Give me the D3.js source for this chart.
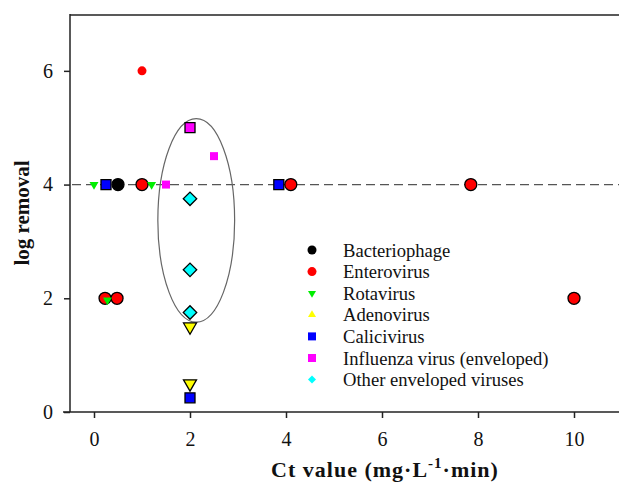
<!DOCTYPE html>
<html>
<head>
<meta charset="utf-8">
<script src="https://cdn.jsdelivr.net/npm/d3@7"></script>
<style>
  body { margin: 0; background: #fff; }
  svg text { font-family: "Liberation Serif", "Times New Roman", serif; fill: #111; }
  .axis path, .axis line { stroke: #222; stroke-width: 1.5; }
</style>
</head>
<body>
<svg id="chart" width="619" height="486"></svg>
<script>
// series, two groups: outlined markers (main) and small markers (extra)
var seriesNames = ["Bacteriophage", "Enterovirus", "Rotavirus", "Adenovirus",
                   "Calicivirus", "Influenza virus (enveloped)", "Other enveloped viruses"];

var bacteriophage   = [[0.5, 4]];
var enterovirus     = [[1, 4], [4.1, 4], [7.85, 4], [10, 2], [0.23, 2], [0.48, 2]];
var rotavirus       = [];
var adenovirus      = [[2, 1.5], [2, 0.5]];
var calicivirus     = [[0.25, 4], [3.85, 4], [2, 0.25]];
var influenza       = [[2, 5]];
var otherEnveloped  = [[2, 3.75], [2, 2.5], [2, 1.75]];

var bacteriophageX  = [];
var enterovirusX    = [[1, 6]];
var rotavirusX      = [[0, 4], [1.2, 4], [0.28, 1.97]];
var adenovirusX     = [];
var calicivirusX    = [];
var influenzaX      = [[1.5, 4], [2.5, 4.5]];
var otherEnvelopedX = [];

var xTicks = [0, 2, 4, 6, 8, 10];
var yTicks = [0, 2, 4, 6];
var threshold = 4;
// ellipse drawn round the x=2 cluster: centre, radii in data units
var ellipseData = { cx: 2.13, cy: 3.37, rx: 0.8, ry: 1.79 };

var mainData  = [bacteriophage, enterovirus, rotavirus, adenovirus, calicivirus, influenza, otherEnveloped];
var extraData = [bacteriophageX, enterovirusX, rotavirusX, adenovirusX, calicivirusX, influenzaX, otherEnvelopedX];

var colors  = ["#000000", "#ff0000", "#00ee00", "#ffff00", "#0000ff", "#ff00ff", "#00ffff"];
var shapes  = ["circle", "circle", "down", "down", "square", "square", "diamond"];
var legendShapes = ["circle", "circle", "down", "up", "square", "square", "diamond"];

var svg = d3.select("#chart");
var x = d3.scaleLinear().domain([-0.5, 11]).range([70, 622]);
var y = d3.scaleLinear().domain([0, 7]).range([412, 14]);

// marker path by shape and pixel size (width)
function marker(shape, w) {
  if (shape === "circle") return d3.symbol(d3.symbolCircle, Math.PI * w * w / 4)();
  if (shape === "square") return d3.symbol(d3.symbolSquare, w * w)();
  if (shape === "diamond") return d3.symbol(d3.symbolSquare, w * w / 2)();
  return d3.symbol(d3.symbolTriangle, Math.sqrt(3) / 4 * w * w)();
}
function rot(shape) {
  if (shape === "down") return " rotate(180)";
  if (shape === "diamond") return " rotate(45)";
  return "";
}
var bigSize   = { circle: 12, square: 10, down: 13, up: 13, diamond: 9.5 * Math.SQRT2 };
var smallSize = { circle: 9, square: 8, down: 9, up: 9, diamond: 6.5 * Math.SQRT2 };

// top frame line
svg.append("line")
  .attr("x1", 70).attr("x2", 619).attr("y1", 15).attr("y2", 15)
  .attr("stroke", "#222").attr("stroke-width", 1.5);

// axes
var xAxis = svg.append("g").attr("class", "axis")
  .attr("transform", "translate(0,412)")
  .call(d3.axisBottom(x).tickValues(xTicks).tickFormat(d3.format("d"))
    .tickSize(6).tickSizeOuter(0).tickPadding(14));
xAxis.select(".domain").attr("d", "M63,0H619");
xAxis.selectAll("text").style("font-size", "20px");

var yAxis = svg.append("g").attr("class", "axis")
  .attr("transform", "translate(70,0)")
  .call(d3.axisLeft(y).tickValues(yTicks).tickFormat(d3.format("d"))
    .tickSize(6).tickSizeOuter(0).tickPadding(11));
yAxis.select(".domain").attr("d", "M0,14V412");
yAxis.selectAll("text").style("font-size", "20px");

// threshold line
svg.append("line")
  .attr("x1", 72).attr("x2", 619)
  .attr("y1", y(threshold)).attr("y2", y(threshold))
  .attr("stroke", "#555").attr("stroke-width", 1.2)
  .attr("stroke-dasharray", "9,5");

// ellipse
svg.append("ellipse")
  .attr("cx", x(ellipseData.cx)).attr("cy", y(ellipseData.cy))
  .attr("rx", x(ellipseData.rx) - x(0)).attr("ry", y(0) - y(ellipseData.ry))
  .attr("fill", "none").attr("stroke", "#666").attr("stroke-width", 1.2);

// points
var gPts = svg.append("g");
mainData.forEach(function(series, i) {
  gPts.selectAll(null).data(series).enter().append("path")
    .attr("d", marker(shapes[i], bigSize[shapes[i]]))
    .attr("transform", function(d) { return "translate(" + x(d[0]) + "," + y(d[1]) + ")" + rot(shapes[i]); })
    .attr("fill", colors[i]).attr("stroke", "#000").attr("stroke-width", 1.3);
});
extraData.forEach(function(series, i) {
  gPts.selectAll(null).data(series).enter().append("path")
    .attr("d", marker(shapes[i], smallSize[shapes[i]]))
    .attr("transform", function(d) { return "translate(" + x(d[0]) + "," + y(d[1]) + ")" + rot(shapes[i]); })
    .attr("fill", colors[i]);
});

// legend
var legend = svg.append("g").attr("transform", "translate(312,250)");
seriesNames.forEach(function(name, i) {
  var row = legend.append("g").attr("transform", "translate(0," + (i * 21.6) + ")");
  row.append("path")
    .attr("d", marker(legendShapes[i], legendShapes[i] === "circle" ? 9 : 8))
    .attr("transform", "translate(0,0)" + rot(legendShapes[i]))
    .attr("fill", colors[i]);
  row.append("text").attr("x", 31).attr("y", 6.5)
    .style("font-size", "18.6px").text(name);
});

// axis titles
svg.append("text")
  .attr("transform", "translate(29,213) rotate(-90)")
  .attr("text-anchor", "middle")
  .style("font-size", "21px").style("font-weight", "bold")
  .text("log removal");

var xt = svg.append("text")
  .attr("x", 385).attr("y", 477)
  .attr("text-anchor", "middle")
  .style("font-size", "22px").style("font-weight", "bold")
  .style("letter-spacing", "1px");
xt.append("tspan").text("Ct value (mg\u00b7L");
xt.append("tspan").attr("dy", -9).style("font-size", "15px").text("-1");
xt.append("tspan").attr("dy", 9).text("\u00b7min)");
</script>
</body>
</html>
